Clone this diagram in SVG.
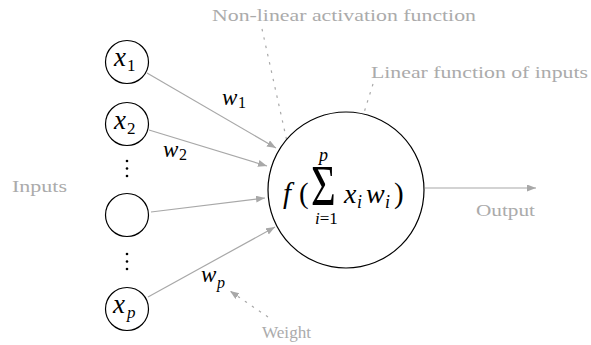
<svg xmlns="http://www.w3.org/2000/svg" width="591" height="345" viewBox="0 0 591 345">
<style>
.node{fill:#fff;stroke:#000;stroke-width:1.2}
.conn{stroke:#a8a8a8;stroke-width:1.2;fill:none}
.dash{stroke:#a8a8a8;stroke-width:1.2;fill:none;stroke-dasharray:2.5 6}
.lbl{font-family:"Liberation Serif",serif;font-size:17px;fill:#ababab}
.m{font-family:"Liberation Serif",serif;font-style:italic;fill:#000}
.r{font-family:"Liberation Serif",serif;fill:#000}
</style>
<defs>
<marker id="ah" markerUnits="userSpaceOnUse" markerWidth="10" markerHeight="8" refX="9" refY="3.5" orient="auto">
<path d="M0,0 L9,3.5 L0,7 z" fill="#a8a8a8"/>
</marker>
</defs>
<g id="connectors">
<line class="conn" x1="147" y1="73" x2="276" y2="148" marker-end="url(#ah)"/>
<line class="conn" x1="149" y1="130" x2="267" y2="166" marker-end="url(#ah)"/>
<line class="conn" x1="151" y1="212" x2="265" y2="198" marker-end="url(#ah)"/>
<line class="conn" x1="148" y1="297" x2="275" y2="227" marker-end="url(#ah)"/>
<line class="conn" x1="425" y1="188" x2="536" y2="188" marker-end="url(#ah)"/>
<line class="dash" x1="262" y1="29" x2="292" y2="164" marker-end="url(#ah)"/>
<line class="dash" x1="373" y1="84" x2="351" y2="154" marker-end="url(#ah)"/>
<line class="dash" x1="268" y1="317" x2="230" y2="291" marker-end="url(#ah)"/>
</g>
<g id="x1">
<circle class="node" cx="127" cy="62" r="21.5"/>
<text class="m" x="114" y="66" font-size="27">x</text>
<text class="r" x="127" y="71" font-size="17">1</text>
</g>
<g id="x2">
<circle class="node" cx="127" cy="124" r="21.5"/>
<text class="m" x="114" y="129" font-size="27">x</text>
<text class="r" x="127" y="134" font-size="17">2</text>
</g>
<g id="dots1">
<circle cx="127" cy="161" r="1.3"/>
<circle cx="127" cy="168.5" r="1.3"/>
<circle cx="127" cy="176" r="1.3"/>
</g>
<g id="x3">
<circle class="node" cx="127" cy="215" r="21.5"/>
</g>
<g id="dots2">
<circle cx="127" cy="254" r="1.3"/>
<circle cx="127" cy="261.5" r="1.3"/>
<circle cx="127" cy="269" r="1.3"/>
</g>
<g id="xp">
<circle class="node" cx="127" cy="309" r="21.5"/>
<text class="m" x="113" y="313" font-size="27">x</text>
<text class="m" x="127" y="318" font-size="17">p</text>
</g>
<g id="neuron">
<circle class="node" cx="346" cy="190" r="78"/>
<text class="m" x="283" y="203" font-size="29">f</text>
<text class="r" x="299" y="203" font-size="29">(</text>
<text class="r" transform="translate(311,205) scale(0.76,1)" font-size="56">Σ</text>
<text class="m" x="319" y="161" font-size="18">p</text>
<text x="315" y="224" font-size="17"><tspan class="m">i</tspan><tspan class="r">=1</tspan></text>
<text class="m" x="344" y="203" font-size="28">x</text>
<text class="m" x="357" y="208" font-size="18">i</text>
<text class="m" x="366" y="203" font-size="28">w</text>
<text class="m" x="385" y="208" font-size="18">i</text>
<text class="r" x="394" y="203" font-size="29">)</text>
</g>
<g id="labels">
<text class="m" x="222" y="105" font-size="23">w</text>
<text class="r" x="238" y="108" font-size="16">1</text>
<text class="m" x="163" y="157" font-size="23">w</text>
<text class="r" x="179" y="160" font-size="16">2</text>
<text class="m" x="201" y="282" font-size="23">w</text>
<text class="m" x="217" y="288" font-size="16">p</text>
<text class="lbl" x="212" y="21" textLength="264" lengthAdjust="spacingAndGlyphs">Non-linear activation function</text>
<text class="lbl" x="371" y="78" textLength="217" lengthAdjust="spacingAndGlyphs">Linear function of inputs</text>
<text class="lbl" x="12" y="192" textLength="55" lengthAdjust="spacingAndGlyphs">Inputs</text>
<text class="lbl" x="476" y="216" textLength="59" lengthAdjust="spacingAndGlyphs">Output</text>
<text class="lbl" x="262" y="338" textLength="49" lengthAdjust="spacingAndGlyphs">Weight</text>
</g>
</svg>
